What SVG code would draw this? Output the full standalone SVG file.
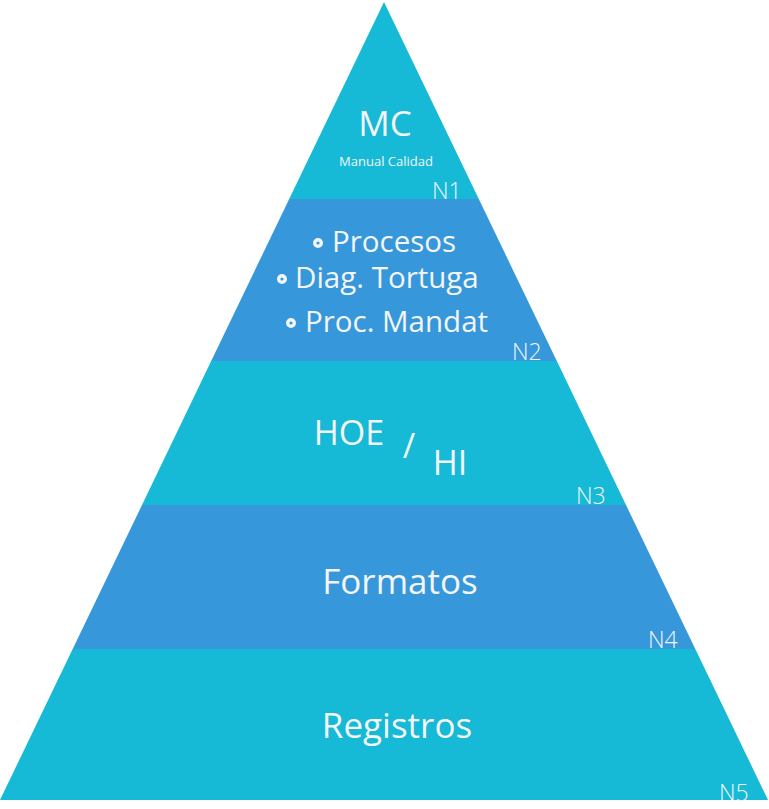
<svg xmlns="http://www.w3.org/2000/svg" width="769" height="809" viewBox="0 0 769 809">
  <style>
    .cyan { fill: #16b9d6; }
    .blue { fill: #3797db; }
    .t { font-family: "Open Sans", "Noto Sans", "DejaVu Sans", sans-serif; fill: #f3f5f7; }
    .big { font-size: 35px; text-anchor: middle; }
    .hoe { font-size: 34px; text-anchor: middle; }
    .mid { font-size: 29.5px; }
    .small { font-size: 13px; text-anchor: middle; }
    .lvl { font-size: 23px; font-weight: 300; }
    .bullet { fill: none; stroke: #f3f5f7; stroke-width: 3.4; }
  </style>
  <rect width="769" height="809" fill="#ffffff"/>

  <!-- Level 1: quality manual (apex) -->
  <g id="n1">
    <polygon class="cyan" points="384,2 478.8,199 289.2,199"/>
    <text class="t big" x="385" y="136">MC</text>
    <text class="t small" x="386" y="166">Manual Calidad</text>
    <text class="t lvl" x="432" y="199">N1</text>
  </g>

  <!-- Level 2: processes -->
  <g id="n2">
    <polygon class="blue" points="289.2,199 478.8,199 556.8,361 211.2,361"/>
    <circle class="bullet" cx="318" cy="243" r="3.3"/>
    <text class="t mid" x="332" y="252">Procesos</text>
    <circle class="bullet" cx="282" cy="279" r="3.3"/>
    <text class="t mid" x="295" y="288">Diag. Tortuga</text>
    <circle class="bullet" cx="291" cy="323" r="3.3"/>
    <text class="t mid" x="305" y="332">Proc. Mandat</text>
    <text class="t lvl" x="512" y="360">N2</text>
  </g>

  <!-- Level 3: work instructions -->
  <g id="n3">
    <polygon class="cyan" points="211.2,361 556.8,361 626,505 142,505"/>
    <text class="t hoe" x="349" y="445">HOE</text>
    <text class="t hoe" x="409" y="458">/</text>
    <text class="t hoe" x="450" y="475">HI</text>
    <text class="t lvl" x="576" y="504">N3</text>
  </g>

  <!-- Level 4: forms -->
  <g id="n4">
    <polygon class="blue" points="142,505 626,505 695.3,649 72.7,649"/>
    <text class="t big" x="400" y="594">Formatos</text>
    <text class="t lvl" x="648" y="648">N4</text>
  </g>

  <!-- Level 5: records (base) -->
  <g id="n5">
    <polygon class="cyan" points="72.7,649 695.3,649 768,800 0,800"/>
    <text class="t big" x="397" y="738">Registros</text>
    <text class="t lvl" x="719" y="801">N5</text>
  </g>

  <g id="connectors"></g>
</svg>
